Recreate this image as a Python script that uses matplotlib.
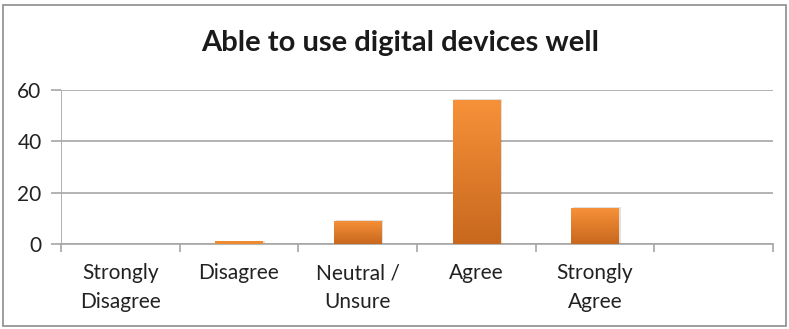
import matplotlib.pyplot as plt
import numpy as np
from matplotlib.patches import Rectangle
from matplotlib.colors import LinearSegmentedColormap

categories = ["Strongly\nDisagree", "Disagree", "Neutral /\nUnsure", "Agree", "Strongly\nAgree", ""]
values = [0, 1, 9, 56, 14, 0]
yticks = [0, 20, 40, 60]

plt.rcParams['font.family'] = ['Lato', 'DejaVu Sans']

W, H = 789, 329
fig = plt.figure(figsize=(W / 100, H / 100), dpi=100)

# outer chart border
fig.patches.append(Rectangle((3 / W, 3 / H), 783 / W, 321 / H, transform=fig.transFigure,
                             fill=False, edgecolor='#8c8c8c', linewidth=1.2))

ax = fig.add_axes([61 / W, 85 / H, 712 / W, 154 / H])

for s in ['top', 'right', 'left']:
    ax.spines[s].set_visible(False)
ax.spines['bottom'].set_color('#a6a6a6')
ax.spines['bottom'].set_linewidth(1.2)

ax.set_yticks(yticks)
ax.yaxis.grid(True, color='#a6a6a6', linewidth=1.2)
ax.set_axisbelow(True)
ax.axvline(0, color='#a6a6a6', linewidth=1.2, zorder=1)
ax.tick_params(axis='y', length=7, color='#a6a6a6', width=1.2, labelsize=15,
               pad=7, labelcolor='#222222')

# category boundaries carry tick marks, labels sit between them
ax.set_xticks(np.arange(len(categories) + 1))
ax.set_xticklabels([])
ax.set_xticks(np.arange(len(categories)) + 0.5, minor=True)
ax.set_xticklabels(categories, minor=True, fontsize=15, linespacing=1.55, color='#222222')
ax.tick_params(axis='x', which='major', length=6, color='#a6a6a6', width=1.2)
ax.tick_params(axis='x', which='minor', length=0, pad=14)

# bars with a vertical orange gradient
grad = np.linspace(0, 1, 256).reshape(-1, 1)
cmap = LinearSegmentedColormap.from_list('og', ['#c8681e', '#f79139'])
bw = 0.4
for i, v in enumerate(values):
    if v <= 0:
        continue
    x0 = i + 0.5 - bw / 2
    # soft shadow
    sh = Rectangle((x0 + 0.015, 0), bw, v + 0.3, facecolor='#000000', alpha=0.12,
                   edgecolor='none', zorder=2)
    ax.add_patch(sh)
    r = Rectangle((x0, 0), bw, v, facecolor='none', edgecolor='none', zorder=3)
    ax.add_patch(r)
    im = ax.imshow(grad, extent=[x0, x0 + bw, 0, v], origin='lower', cmap=cmap,
                   aspect='auto', zorder=3)
    im.set_clip_path(r)
    if v < 2:
        ax.add_patch(Rectangle((x0, 0), bw, v, facecolor='#f08a30', edgecolor='none', zorder=3))

ax.set_xlim(0, len(categories))
ax.set_ylim(0, 60)

fig.text(400 / W, 1 - 43 / H, "Able to use digital devices well", ha='center', va='center',
         fontsize=21, fontweight='bold', color='#1a1a1a')

fig.savefig('out.png', dpi=100)
